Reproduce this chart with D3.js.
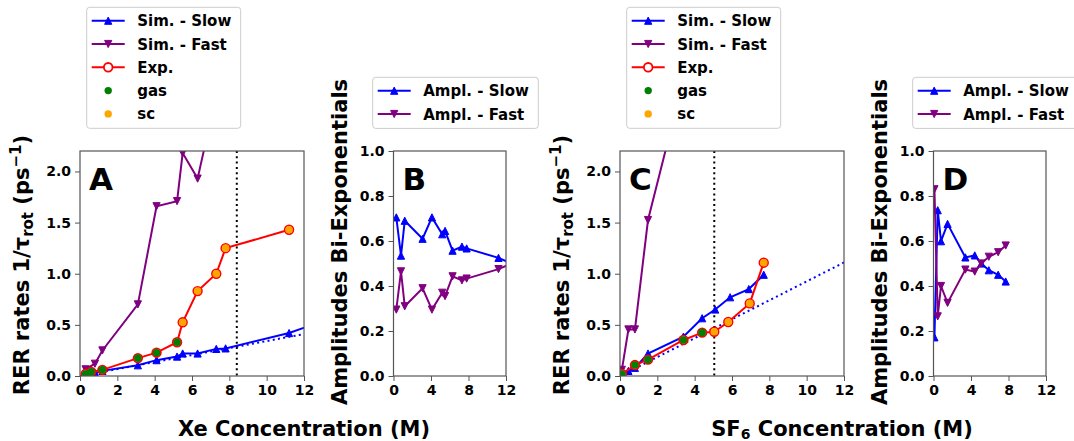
<!DOCTYPE html>
<html><head><meta charset="utf-8">
<script src="https://cdn.jsdelivr.net/npm/d3@7"></script>
<style>
body{margin:0;background:#fff}
text{font-family:"DejaVu Sans";font-weight:bold;fill:#000}
</style>
</head><body>
<svg id="fig" width="1074" height="441"></svg>
<script>
// ---------- Xe series ----------
const xeConc      = [0.3, 0.8, 1.2, 3.1, 4.1, 5.2, 5.5, 6.3, 7.3, 7.8, 11.2, 12.6];
const xeSimSlow   = [0.02, 0.03, 0.05, 0.105, 0.155, 0.19, 0.22, 0.22, 0.265, 0.27, 0.42, 0.51];
const xeSimFast   = [0.065, 0.12, 0.25, 0.70, 1.66, 1.71, 2.18, 1.93, 2.75, 3.2, 4.5, 5.0];
const xeAmpSlow   = [0.705, 0.535, 0.69, 0.61, 0.705, 0.63, 0.645, 0.557, 0.575, 0.567, 0.525, 0.50];
const xeAmpFast   = [0.295, 0.465, 0.31, 0.39, 0.295, 0.37, 0.355, 0.443, 0.425, 0.433, 0.475, 0.50];
const xeExpConc   = [0.3, 0.6, 1.2, 3.1, 4.1, 5.2, 5.5, 6.3, 7.3, 7.8, 11.2];
const xeExp       = [0.02, 0.04, 0.06, 0.175, 0.228, 0.33, 0.525, 0.83, 1.0, 1.25, 1.43];
const xeExpPhase  = ["gas","gas","gas","gas","gas","gas","sc","sc","sc","sc","sc"];
const xeFitY      = [0, 0.41];
const xeCritical  = 8.4;

// ---------- SF6 series ----------
const sf6Conc     = [0.1, 0.45, 0.8, 1.5, 3.4, 4.4, 5.1, 5.9, 6.9, 7.7];
const sf6SimSlow  = [0.03, 0.05, 0.08, 0.22, 0.385, 0.565, 0.65, 0.77, 0.85, 0.99];
const sf6SimFast  = [0.06, 0.455, 0.455, 1.525, 2.9, 3.6, 4.0, 4.4, 4.8, 5.2];
const sf6AmpSlow  = [0.172, 0.737, 0.599, 0.676, 0.527, 0.536, 0.50, 0.47, 0.45, 0.42];
const sf6AmpFast  = [0.83, 0.265, 0.40, 0.325, 0.473, 0.464, 0.50, 0.53, 0.55, 0.58];
const sf6ExpConc  = [0.1, 0.8, 1.5, 3.4, 4.4, 5.05, 5.8, 6.95, 7.7];
const sf6Exp      = [0.02, 0.107, 0.16, 0.352, 0.424, 0.433, 0.528, 0.71, 1.108];
const sf6ExpPhase = ["gas","gas","gas","gas","gas","sc","sc","sc","sc"];
const sf6FitY     = [0, 1.11];
const sf6Critical = 5.05;

// ---------- axes ticks / labels ----------
const fitX        = [0, 12];
const rateTicks   = [0, 0.5, 1.0, 1.5, 2.0];
const rateXTicks  = [0, 2, 4, 6, 8, 10, 12];
const ampTicks    = [0, 0.2, 0.4, 0.6, 0.8, 1.0];
const ampXTicks   = [0, 4, 8, 12];
const rateLegend  = ["Sim. - Slow", "Sim. - Fast", "Exp.", "gas", "sc"];
const ampLegend   = ["Ampl. - Slow", "Ampl. - Fast"];

const C = {slow:"#0000ff", fast:"#800080", exp:"#ff0000", gas:"#008000", sc:"#ffa500", frame:"#555"};

const svg = d3.select("#fig");
svg.append("rect").attr("width",1074).attr("height",441).attr("fill","#fff");

const TOP = 151, BOT = 376;

function tri(s, up){
  return up ? `M0,${-s}L${s},${s}L${-s},${s}Z` : `M0,${s}L${s},${-s}L${-s},${-s}Z`;
}

let clipN = 0;
function makeAxes(left, right, ymax, xt, yt, letter){
  const x = d3.scaleLinear([0,12],[left,right]);
  const y = d3.scaleLinear([0,ymax],[BOT,TOP]);
  const id = "clip"+(clipN++);
  svg.append("clipPath").attr("id",id).append("rect")
    .attr("x",left).attr("y",TOP).attr("width",right-left).attr("height",BOT-TOP);
  const g = svg.append("g");
  const plot = g.append("g").attr("clip-path",`url(#${id})`);
  const ax = g.append("g").attr("transform",`translate(0,${BOT})`)
    .call(d3.axisBottom(x).tickValues(xt).tickSize(5).tickPadding(4).tickFormat(d3.format("d")));
  const ay = g.append("g").attr("transform",`translate(${left},0)`)
    .call(d3.axisLeft(y).tickValues(yt).tickSize(5).tickPadding(4).tickFormat(d3.format(".1f")));
  [ax,ay].forEach(a=>{
    a.select(".domain").remove();
    a.selectAll(".tick line").attr("stroke",C.frame).attr("stroke-width",1);
    a.selectAll(".tick text").attr("font-size",14).attr("font-family","DejaVu Sans").attr("font-weight","bold").attr("fill","#000");
  });
  g.append("rect").attr("x",left).attr("y",TOP).attr("width",right-left).attr("height",BOT-TOP)
    .attr("fill","none").attr("stroke",C.frame).attr("stroke-width",1.2);
  g.append("text").attr("x",left+9).attr("y",TOP+39).attr("font-size",31).text(letter);
  return {x,y,plot,g};
}

function lineSeries(a, xs, ys, color, up){
  const pts = xs.map((v,i)=>[v,ys[i]]);
  a.plot.append("path").datum(pts)
    .attr("d", d3.line().x(d=>a.x(d[0])).y(d=>a.y(d[1])))
    .attr("fill","none").attr("stroke",color).attr("stroke-width",2);
  a.plot.selectAll(null).data(pts).join("path")
    .attr("transform",d=>`translate(${a.x(d[0])},${a.y(d[1])})`)
    .attr("d",tri(3.6,up)).attr("fill",color).attr("stroke",color).attr("stroke-width",1);
}

function expSeries(a, xs, ys, phase){
  const pts = xs.map((v,i)=>[v,ys[i],phase[i]]);
  a.plot.append("path").datum(pts)
    .attr("d", d3.line().x(d=>a.x(d[0])).y(d=>a.y(d[1])))
    .attr("fill","none").attr("stroke",C.exp).attr("stroke-width",2);
  a.plot.selectAll(null).data(pts).join("circle")
    .attr("cx",d=>a.x(d[0])).attr("cy",d=>a.y(d[1])).attr("r",4.3)
    .attr("fill","#fff").attr("stroke",C.exp).attr("stroke-width",1.8);
  a.plot.selectAll(null).data(pts).join("circle")
    .attr("cx",d=>a.x(d[0])).attr("cy",d=>a.y(d[1])).attr("r",3.8)
    .attr("fill",d=>C[d[2]]);
}

function dotted(a, xs, ys, color){
  a.plot.append("path").datum(xs.map((v,i)=>[v,ys[i]]))
    .attr("d", d3.line().x(d=>a.x(d[0])).y(d=>a.y(d[1])))
    .attr("fill","none").attr("stroke",color).attr("stroke-width",2).attr("stroke-dasharray","2,3.3");
}

function vline(a, xv){
  a.plot.append("line").attr("x1",a.x(xv)).attr("x2",a.x(xv)).attr("y1",TOP).attr("y2",BOT)
    .attr("stroke","#000").attr("stroke-width",2).attr("stroke-dasharray","2,3.3");
}

function rateYLabel(xpos){
  const t = svg.append("text").attr("font-size",21)
    .attr("transform",`translate(${xpos},265) rotate(-90)`).attr("text-anchor","middle");
  t.append("tspan").text("RER rates 1/\u03c4");
  t.append("tspan").attr("font-size",15).attr("dy",4).text("rot");
  t.append("tspan").attr("dy",-4).text(" (ps");
  t.append("tspan").attr("font-size",15).attr("dy",-8).text("\u22121");
  t.append("tspan").attr("dy",8).text(")");
}
function ampYLabel(xpos){
  svg.append("text").attr("font-size",21)
    .attr("transform",`translate(${xpos},242) rotate(-90)`).attr("text-anchor","middle")
    .text("Amplitudes Bi-Exponentials");
}

function legend(x0, y0, w, rows){
  const g = svg.append("g").attr("transform",`translate(${x0},${y0})`);
  g.append("rect").attr("width",w).attr("height",rows.length*23.3+4.5).attr("rx",3)
    .attr("fill","#fff").attr("fill-opacity",0.8).attr("stroke","#ccc").attr("stroke-width",1);
  rows.forEach((r,i)=>{
    const cy = 13.4 + i*23.3;
    const row = g.append("g").attr("transform",`translate(0,${cy})`);
    if (r.line) row.append("line").attr("x1",5).attr("x2",38).attr("stroke",r.color).attr("stroke-width",2);
    if (r.kind==="up"||r.kind==="down")
      row.append("path").attr("transform","translate(21.5,0)").attr("d",tri(3.6,r.kind==="up"))
        .attr("fill",r.color).attr("stroke",r.color);
    if (r.kind==="open")
      row.append("circle").attr("cx",21.5).attr("r",4.3).attr("fill","#fff").attr("stroke",r.color).attr("stroke-width",1.8);
    if (r.kind==="dot")
      row.append("circle").attr("cx",21.5).attr("r",3.7).attr("fill",r.color);
    row.append("text").attr("x",50.5).attr("y",5.5).attr("font-size",15).text(r.label);
  });
}

function rateLegendRows(){
  return [
    {label:rateLegend[0], color:C.slow, kind:"up", line:true},
    {label:rateLegend[1], color:C.fast, kind:"down", line:true},
    {label:rateLegend[2], color:C.exp, kind:"open", line:true},
    {label:rateLegend[3], color:C.gas, kind:"dot"},
    {label:rateLegend[4], color:C.sc, kind:"dot"}
  ];
}
function ampLegendRows(){
  return [
    {label:ampLegend[0], color:C.slow, kind:"up", line:true},
    {label:ampLegend[1], color:C.fast, kind:"down", line:true}
  ];
}

// ----- Panel A: Xe rates -----
const A = makeAxes(80, 304, 2.2, rateXTicks, rateTicks, "A");
dotted(A, fitX, xeFitY, C.slow);
vline(A, xeCritical);
lineSeries(A, xeConc, xeSimSlow, C.slow, true);
lineSeries(A, xeConc, xeSimFast, C.fast, false);
expSeries(A, xeExpConc, xeExp, xeExpPhase);
rateYLabel(29);

// ----- Panel B: Xe amplitudes -----
const B = makeAxes(393.5, 506, 1.0, ampXTicks, ampTicks, "B");
lineSeries(B, xeConc, xeAmpSlow, C.slow, true);
lineSeries(B, xeConc, xeAmpFast, C.fast, false);
ampYLabel(347);

// ----- Panel C: SF6 rates -----
const Cp = makeAxes(620, 844, 2.2, rateXTicks, rateTicks, "C");
dotted(Cp, fitX, sf6FitY, C.slow);
vline(Cp, sf6Critical);
lineSeries(Cp, sf6Conc, sf6SimSlow, C.slow, true);
lineSeries(Cp, sf6Conc, sf6SimFast, C.fast, false);
expSeries(Cp, sf6ExpConc, sf6Exp, sf6ExpPhase);
rateYLabel(569);

// ----- Panel D: SF6 amplitudes -----
const D = makeAxes(933.5, 1046, 1.0, ampXTicks, ampTicks, "D");
lineSeries(D, sf6Conc, sf6AmpSlow, C.slow, true);
lineSeries(D, sf6Conc, sf6AmpFast, C.fast, false);
ampYLabel(887);

// ----- legends -----
legend(86.7, 7.3, 154, rateLegendRows());
legend(372.7, 77.3, 165.6, ampLegendRows());
legend(626.7, 7.3, 154, rateLegendRows());
legend(912.7, 77.3, 165.6, ampLegendRows());

// ----- shared x labels -----
svg.append("text").attr("x",304).attr("y",436).attr("text-anchor","middle").attr("font-size",21)
  .text("Xe Concentration (M)");
const sx = svg.append("text").attr("x",842).attr("y",436).attr("text-anchor","middle").attr("font-size",21);
sx.append("tspan").text("SF");
sx.append("tspan").attr("font-size",14).attr("dy",3).text("6");
sx.append("tspan").attr("dy",-3).text(" Concentration (M)");
</script>
</body></html>
